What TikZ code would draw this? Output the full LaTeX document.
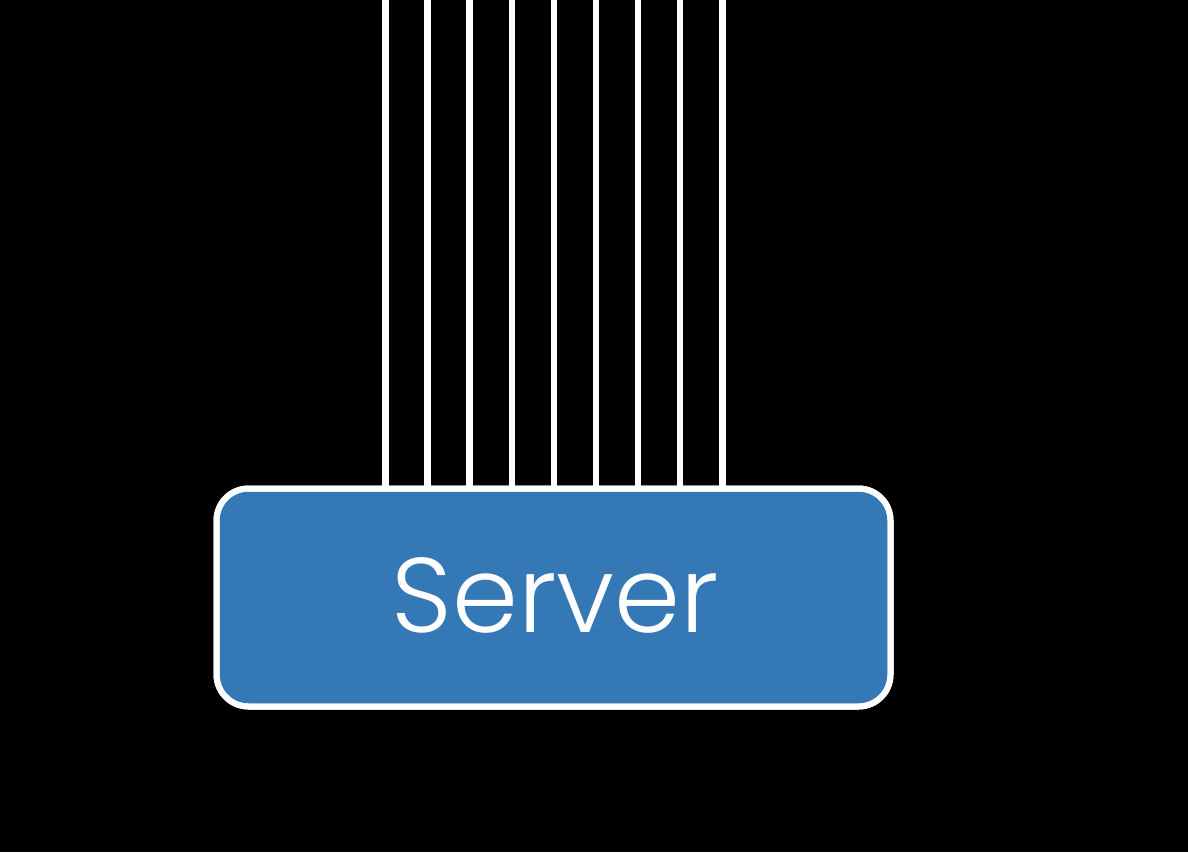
\documentclass[tikz,border=0pt]{standalone}
\usepackage{fontspec}
\newfontfamily\srvfont{Poppins Light}
\definecolor{srvblue}{RGB}{52,120,181}
\begin{document}
\begin{tikzpicture}[x=1pt,y=-1pt,
  wire/.style={draw=white,line width=6.5pt},
  srvbox/.style={draw=white,line width=6pt,fill=srvblue,rounded corners=32pt,minimum width=674pt,minimum height=218pt,inner sep=0pt},
  srvtext/.style={text=white,font=\srvfont\fontsize{106}{106}\selectfont}]
\fill[black] (0,0) rectangle (1188,852);
\useasboundingbox (0,0) rectangle (1188,852);
\node[srvbox] (srv) at (553.5,597.5) {};
\node[srvtext,anchor=base] (lbl) at (555.5,632) {Server};
\foreach \i in {0,...,8} {
  \coordinate (t\i) at ({385.5+42.1*\i},-5);
  \draw[wire] (t\i) -- (t\i |- srv.north);
}
\node[srvbox,fill=none] at (srv) {};
\end{tikzpicture}
\end{document}
